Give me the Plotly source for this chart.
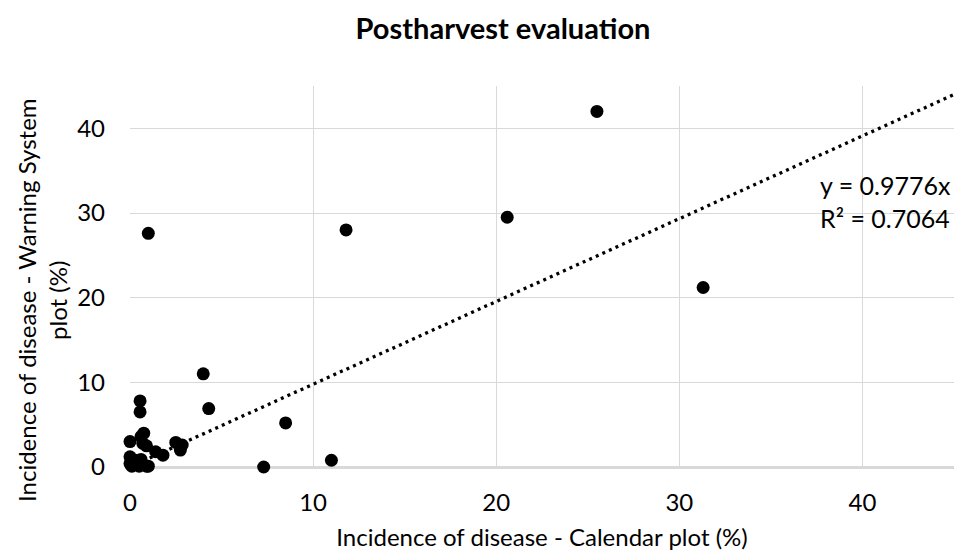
import plotly.graph_objects as go

# Data
calendar_x = [25.5, 20.6, 11.8, 1.0, 31.3, 4.0, 4.3, 8.5, 11.0, 7.3,
              0.55, 0.55, 0.0, 0.75, 0.6, 0.7, 0.9, 1.4, 1.8,
              2.5, 2.85, 2.75, 0.0, 0.0, 0.1, 0.3, 0.5, 0.6, 0.9, 1.0, 0.2, 0.4, 0.7]
warning_y = [42.0, 29.5, 28.0, 27.6, 21.2, 11.0, 6.9, 5.2, 0.8, 0.0,
             7.8, 6.5, 3.0, 4.0, 3.6, 2.8, 2.5, 1.8, 1.4,
             2.9, 2.6, 2.0, 1.2, 0.4, 0.1, 0.8, 0.1, 0.9, 0.1, 0.1, 0.3, 0.5, 0.3]

trend_slope = 0.9776
trend_r2 = 0.7064
trend_x = [0, 45]
trend_y = [trend_slope * v for v in trend_x]

x_ticks = [0, 10, 20, 30, 40]
y_ticks = [0, 10, 20, 30, 40]

FONT = "Lato"
FS = 24

fig = go.Figure()
fig.add_trace(go.Scatter(x=trend_x, y=trend_y, mode="lines",
                         line=dict(color="black", width=3.3, dash="3px,4.2px"),
                         hoverinfo="skip", showlegend=False, cliponaxis=True))
fig.add_trace(go.Scatter(x=calendar_x, y=warning_y, mode="markers",
                         marker=dict(color="black", size=13),
                         showlegend=False, cliponaxis=False))

fig.add_annotation(x=37.55, y=31.4, xref="x", yref="y",
                   text=f"y = {trend_slope}x<br>R² = {trend_r2}",
                   showarrow=False, xanchor="left", yanchor="middle", align="left",
                   font=dict(family=FONT, size=25, color="#000000"))

# Y axis title (placed as rotated annotation to match reference offset)
fig.add_annotation(x=(42 - 130) / 824, y=(467 - 300) / 381, xref="paper", yref="paper",
                   text="Incidence of disease - Warning System<br>plot (%)",
                   textangle=-90, showarrow=False, xanchor="center", yanchor="middle",
                   align="center",
                   font=dict(family=FONT, size=FS, color="#000000"))

fig.update_layout(
    width=954, height=556,
    margin=dict(l=130, r=0, t=86, b=89),
    paper_bgcolor="white", plot_bgcolor="white",
    title=dict(text="<b>Postharvest evaluation</b>", x=503/954, xanchor="center",
               y=1 - 29/556, yanchor="middle",
               font=dict(family=FONT, size=29, color="#000000")),
    font=dict(family=FONT, color="#000000"),
    xaxis=dict(range=[0, 45], tickvals=x_ticks, showgrid=True, gridcolor="#d9d9d9",
               gridwidth=1.4, zeroline=False, showline=False,
               tickfont=dict(family=FONT, size=FS, color="#000000"),
               ticks="", ticklabelstandoff=19,
               title=dict(text="Incidence of disease - Calendar plot (%)",
                          font=dict(family=FONT, size=FS, color="#000000"), standoff=14)),
    yaxis=dict(range=[0, 45], tickvals=y_ticks, showgrid=True, gridcolor="#d9d9d9",
               gridwidth=1.4, zeroline=True, zerolinecolor="#d9d9d9", zerolinewidth=2.5,
               showline=False,
               tickfont=dict(family=FONT, size=FS, color="#000000"),
               ticks="", ticklabelstandoff=24),
)

fig.write_html("out.html")
